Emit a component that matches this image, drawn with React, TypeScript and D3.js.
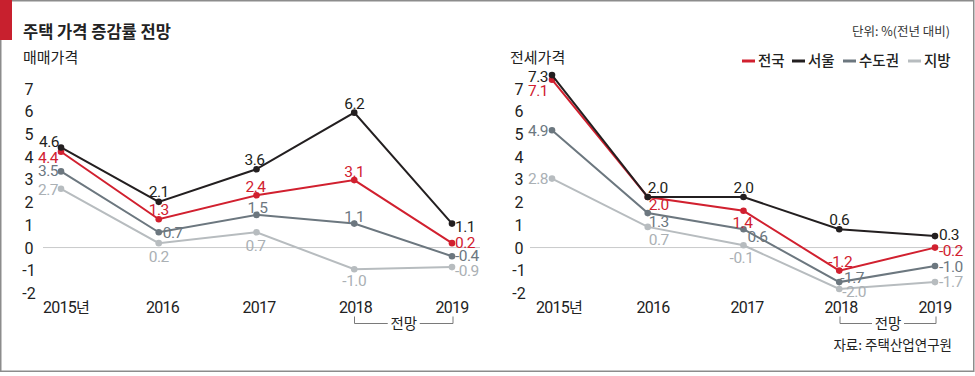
import React from "react";
import * as d3 from "d3";

// ---------- data ----------
const years = ["2015", "2016", "2017", "2018", "2019"];
const yearLabels = ["2015년", "2016", "2017", "2018", "2019"];
const yTicks = [7, 6, 5, 4, 3, 2, 1, 0, -1, -2];
const seriesNames = ["전국", "서울", "수도권", "지방"];

// 매매가격
const saleNational = [4.4, 1.3, 2.4, 3.1, 0.2];
const saleSeoul = [4.6, 2.1, 3.6, 6.2, 1.1];
const saleCapital = [3.5, 0.7, 1.5, 1.1, -0.4];
const saleLocal = [2.7, 0.2, 0.7, -1.0, -0.9];

// 전세가격
const rentNational = [7.1, 2.0, 1.4, -1.2, -0.2];
const rentSeoul = [7.3, 2.0, 2.0, 0.6, 0.3];
const rentCapital = [4.9, 1.3, 0.6, -1.7, -1.0];
const rentLocal = [2.8, 0.7, -0.1, -2.0, -1.7];

// ---------- style / layout ----------
const colors: Record<string, string> = {
  전국: "#d1202f",
  서울: "#231f20",
  수도권: "#6c777f",
  지방: "#b7bcbf",
};
const labelColors: Record<string, string> = {
  전국: "#d1202f",
  서울: "#231f20",
  수도권: "#6c777f",
  지방: "#aab0b4",
};
const KR = "'Noto Sans CJK KR', 'Noto Sans', sans-serif";
const NUM = "Roboto, 'Noto Sans', sans-serif";

type Place = [string, number, number]; // anchor, dx, dy
const S = "start", M = "middle", E = "end";

const salePlace: Record<string, Place[]> = {
  서울: [[E, -2, 0], [M, 0, -5], [M, -2, -4], [M, 0, -4], [S, 3, 8]],
  전국: [[E, -3, 11], [M, 0, -4], [M, -1, -3], [M, 0, -3], [S, 3, 5]],
  수도권: [[E, -3, 5], [S, 4, 6], [M, 1, -2], [M, 0, -2], [S, 3, 5]],
  지방: [[E, -3, 6], [M, 0, 19], [M, -1, 19], [M, 0, 17], [S, 3, 9]],
};
const rentPlace: Record<string, Place[]> = {
  서울: [[E, -4, 7], [S, 0, -4], [M, 0, -4], [M, 0, -4], [S, 4, 4]],
  전국: [[E, -4, 16], [S, 1, 13], [M, -1, 17], [M, 1, -4], [S, 4, 8]],
  수도권: [[E, -4, 6], [S, 1, 14], [S, 4, 13], [S, 1, 1], [S, 4, 6]],
  지방: [[E, -4, 5], [S, 1, 18], [M, -2, 18], [S, 3, 8], [S, 4, 5]],
};

const W = 975;
const H = 376;

// axis label scale (tick positions as printed)
const yTick = d3.scaleLinear().domain([-2, 7]).range([293, 88.5]);

interface PanelProps {
  title: string;
  data: Record<string, number[]>;
  place: Record<string, Place[]>;
  xRange: [number, number];
  labelRange: [number, number];
  yRange: [number, number];
  tickX: number;
  gridRange: [number, number];
  titleX: number;
}

function Panel(p: PanelProps) {
  const x = d3.scalePoint<string>().domain(years).range(p.xRange);
  const xl = d3.scalePoint<string>().domain(years).range(p.labelRange);
  const y = d3.scaleLinear().domain([-2, 7]).range(p.yRange);
  const line = d3
    .line<number>()
    .x((_, i) => x(years[i]) as number)
    .y((v) => y(v));
  const order = ["지방", "수도권", "전국", "서울"];
  const bx0 = (xl("2018") as number) - 1;
  const bx1 = (xl("2019") as number) + 1;
  const bmid = (bx0 + bx1) / 2;
  return (
    <g>
      <text x={p.titleX} y={63} fontFamily={KR} fontSize={15} fill="#222">
        {p.title}
      </text>
      {yTicks.map((t) => (
        <text
          key={t}
          x={p.tickX}
          y={yTick(t) + 6}
          textAnchor="middle"
          fontFamily={NUM}
          fontSize={16}
          fill="#222"
        >
          {t}
        </text>
      ))}
      <line
        x1={p.gridRange[0]}
        x2={p.gridRange[1]}
        y1={yTick(0)}
        y2={yTick(0)}
        stroke="#c9cacb"
        strokeWidth={1}
      />
      {years.map((yr, i) => (
        <text
          key={yr}
          x={xl(yr)}
          y={313}
          textAnchor="middle"
          fontFamily={NUM}
          fontSize={16}
          letterSpacing={-0.8}
          fill="#222"
        >
          {i === 0 ? (
            <>
              2015<tspan fontFamily={KR} fontSize={15}>년</tspan>
            </>
          ) : (
            yearLabels[i]
          )}
        </text>
      ))}
      <path
        d={`M${bx0},316.5V323.5H${bmid - 16}M${bmid + 16},323.5H${bx1}V316.5`}
        fill="none"
        stroke="#7a7a7a"
        strokeWidth={1}
      />
      <text x={bmid} y={328.5} textAnchor="middle" fontFamily={KR} fontSize={14.5} fill="#222">
        전망
      </text>
      {order.map((name) => (
        <g key={name}>
          <path d={line(p.data[name]) || ""} fill="none" stroke={colors[name]} strokeWidth={2} />
          {p.data[name].map((v, i) => (
            <circle key={i} cx={x(years[i])} cy={y(v)} r={3.3} fill={colors[name]} />
          ))}
        </g>
      ))}
      {order.map((name) =>
        p.data[name].map((v, i) => {
          const [anchor, dx, dy] = p.place[name][i];
          return (
            <text
              key={name + i}
              x={(x(years[i]) as number) + dx}
              y={y(v) + dy}
              textAnchor={anchor}
              fontFamily={NUM}
              fontSize={15.5}
              letterSpacing={-0.5}
              fill={labelColors[name]}
            >
              {v.toFixed(1)}
            </text>
          );
        })
      )}
    </g>
  );
}

export default function App() {
  const saleData: Record<string, number[]> = {
    전국: saleNational,
    서울: saleSeoul,
    수도권: saleCapital,
    지방: saleLocal,
  };
  const rentData: Record<string, number[]> = {
    전국: rentNational,
    서울: rentSeoul,
    수도권: rentCapital,
    지방: rentLocal,
  };
  const legendX = [742, 792, 843, 908];
  return (
    <svg
      width={W}
      height={H}
      style={{ position: "absolute", left: 0, top: 0, background: "#fff" }}
    >
      <rect x={0} y={0} width={W} height={H} fill="#fff" />
      <rect x={0.75} y={0.75} width={973} height={370.5} fill="none" stroke="#8c8c8c" strokeWidth={1.5} />
      <rect x={0} y={0} width={12} height={40} fill="#c8202e" />
      <text x={23} y={38} fontFamily={KR} fontSize={16.5} fontWeight={700} fill="#222">
        주택 가격 증감률 전망
      </text>
      <text x={950} y={36} textAnchor="end" fontFamily={KR} fontSize={12.5} fill="#333">
        단위: %(전년 대비)
      </text>
      {seriesNames.map((n, i) => (
        <g key={n}>
          <line
            x1={legendX[i]}
            x2={legendX[i] + 13}
            y1={61}
            y2={61}
            stroke={colors[n]}
            strokeWidth={3}
          />
          <text x={legendX[i] + 16} y={66} fontFamily={KR} fontSize={14.5} fontWeight={500} fill="#222">
            {n}
          </text>
        </g>
      ))}
      <Panel
        title="매매가격"
        data={saleData}
        place={salePlace}
        xRange={[61, 452]}
        labelRange={[66, 452]}
        yRange={[291, 95.25]}
        tickX={29}
        gridRange={[43, 480]}
        titleX={23}
      />
      <Panel
        title="전세가격"
        data={rentData}
        place={rentPlace}
        xRange={[552, 935]}
        labelRange={[559, 935]}
        yRange={[289, 82]}
        tickX={519}
        gridRange={[530, 963]}
        titleX={510}
      />
      <text x={952} y={350} textAnchor="end" fontFamily={KR} fontSize={13.5} fill="#222">
        자료: 주택산업연구원
      </text>
    </svg>
  );
}
